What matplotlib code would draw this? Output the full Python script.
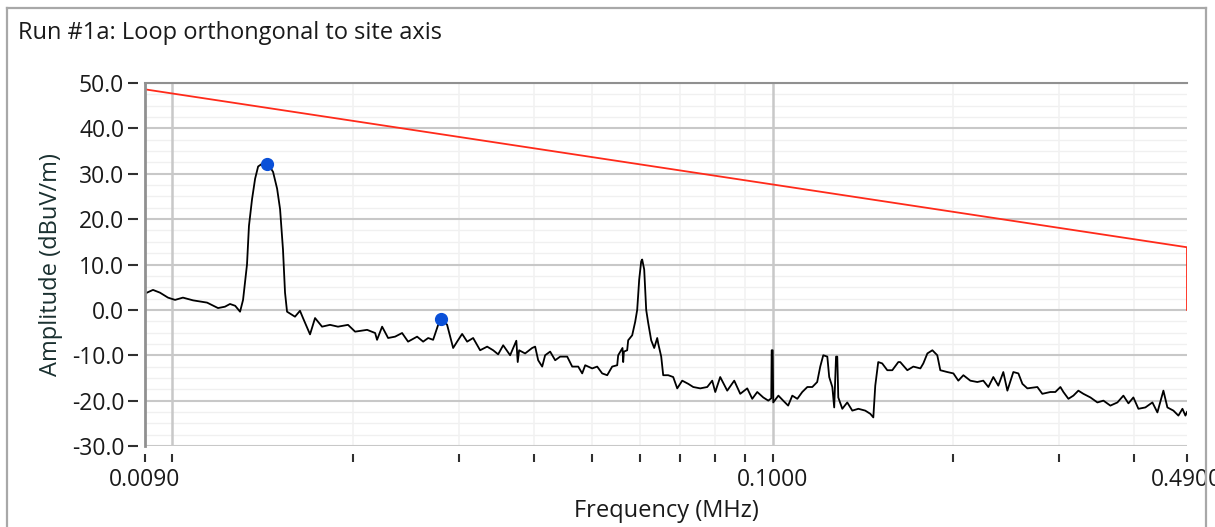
import matplotlib
matplotlib.use("Agg")
import matplotlib.pyplot as plt
from matplotlib.lines import Line2D
from matplotlib.ticker import FixedLocator, FixedFormatter, NullFormatter

# ---------------- data ----------------
freq_khz = [
    9.00, 9.28, 9.53, 9.83, 10.10, 10.41, 10.82, 11.42, 11.91, 12.23, 12.47, 12.72,
    12.96, 13.11, 13.31, 13.41, 13.57, 13.73, 13.89, 14.10, 14.43, 14.71, 14.94,
    15.11, 15.28, 15.40, 15.52, 16.00, 16.31, 16.50, 16.95, 17.28, 17.75, 18.30,
    18.87, 19.61, 20.15, 21.10, 21.76, 21.92, 22.35, 22.87, 23.49, 24.13, 24.69,
    25.56, 26.16, 26.67, 27.18, 27.71, 28.13, 28.68, 29.35, 29.80, 30.38, 30.97,
    31.69, 32.55, 33.44, 34.22, 34.88, 35.56, 36.52, 37.40, 37.60, 37.80, 38.68,
    39.74, 40.20, 40.67, 41.30, 41.77, 42.58, 43.41, 44.25, 45.46, 46.34, 47.42,
    48.15, 48.71, 50.03, 51.00, 51.99, 53.00, 54.02, 55.07, 55.28, 56.20, 56.35,
    56.50, 57.22, 57.44, 58.33, 59.01, 59.46, 59.92, 60.38, 60.61, 61.08, 61.55,
    62.03, 62.74, 63.47, 64.21, 64.45, 65.20, 65.70, 66.98, 68.27, 69.33, 70.67,
    72.32, 73.72, 75.73, 77.79, 79.29, 80.22, 81.76, 83.99, 86.28, 88.29, 90.69,
    92.45, 94.24, 96.44, 98.31, 99.44, 99.60, 100.0, 100.2, 102.2, 104.1, 106.1,
    107.8, 109.9, 112.0, 114.2, 116.4, 118.6, 120.0, 121.4, 123.3, 124.2, 125.7,
    126.6, 127.5, 128.1, 128.6, 130.6, 133.1, 135.7, 138.9, 142.6, 145.4, 147.1,
    148.2, 149.9, 152.2, 155.2, 158.2, 161.9, 163.1, 167.6, 171.5, 176.2, 178.2,
    181.0, 184.5, 188.0, 190.2, 195.4, 200.0, 203.8, 207.8, 213.4, 219.2, 224.3,
    228.7, 233.1, 237.6, 242.2, 246.0, 251.7, 256.6, 260.6, 265.6, 276.0, 281.3,
    290.1, 295.7, 301.5, 305.0, 310.9, 316.9, 323.0, 329.3, 338.3, 347.5, 355.6,
    365.2, 375.2, 383.9, 391.4, 398.9, 406.7, 417.7, 429.1, 437.4, 447.6, 454.5,
    465.1, 474.1, 481.5, 487.0, 490.0,
]
amp_db = [
    3.6, 4.4, 3.8, 2.7, 2.2, 2.7, 2.1, 1.6, 0.4, 0.7, 1.3, 0.9,
    -0.4, 2.2, 10.0, 18.5, 24.4, 28.9, 31.6, 32.2, 32.2, 30.4, 26.7,
    22.2, 13.3, 3.8, -0.4, -1.5, -0.2, -1.8, -5.4, -1.8, -3.7, -3.3,
    -3.7, -3.3, -4.8, -4.4, -5.1, -6.6, -3.7, -6.2, -5.9, -5.1, -7.0,
    -5.9, -7.0, -6.2, -6.6, -3.3, -2.0, -3.3, -8.4, -7.0, -5.3, -7.0,
    -6.2, -8.9, -8.1, -8.9, -9.8, -7.8, -10.0, -6.8, -11.5, -8.9, -9.6,
    -8.4, -8.1, -11.1, -12.5, -10.0, -9.2, -11.1, -10.3, -10.3, -12.5, -12.5,
    -14.0, -12.2, -12.9, -12.5, -14.0, -14.4, -12.5, -12.2, -10.0, -8.4, -11.5,
    -9.2, -8.9, -6.7, -5.6, -2.6, 0.0, 6.7, 10.7, 11.1, 8.9, 0.0,
    -2.9, -6.7, -8.4, -6.2, -7.4, -10.3, -14.4, -14.4, -14.8, -17.3, -15.6,
    -16.3, -17.0, -17.3, -17.0, -15.6, -18.1, -14.8, -17.8, -15.6, -18.5, -17.3,
    -19.6, -18.1, -19.3, -20.0, -19.5, -8.9, -8.9, -20.4, -18.9, -20.0, -21.1,
    -18.9, -19.6, -18.1, -17.0, -17.0, -15.9, -12.5, -10.0, -10.3, -14.8, -17.0,
    -21.5, -10.3, -10.3, -19.3, -21.8, -20.4, -22.2, -21.8, -22.2, -22.9, -23.7,
    -16.7, -11.5, -11.8, -13.3, -13.3, -11.5, -11.5, -13.3, -12.5, -12.9, -11.8,
    -9.6, -8.9, -10.0, -13.3, -13.7, -14.0, -15.6, -14.4, -15.6, -15.9, -15.6,
    -17.0, -14.8, -16.7, -13.7, -17.8, -13.7, -14.0, -16.3, -17.3, -17.0, -18.5,
    -18.1, -18.1, -17.0, -18.1, -19.6, -18.9, -17.8, -18.5, -19.3, -20.4, -20.0,
    -21.1, -20.4, -18.9, -20.6, -19.3, -21.8, -21.5, -20.4, -22.6, -17.8, -21.5,
    -22.2, -23.3, -21.8, -23.3, -22.5,
]

limit_freq_khz = [9.0, 490.0, 490.0]
limit_db = [48.6, 13.8, 0.0]

peak_freq_khz = [14.37, 28.0]
peak_db = [32.2, -2.1]

title_text = "Run #1a: Loop orthongonal to site axis"
x_label = "Frequency (MHz)"
y_label = "Amplitude (dBuV/m)"
x_tick_values = [0.009, 0.1, 0.49]
x_tick_labels = ["0.0090", "0.1000", "0.4900"]
x_minor_values = [0.01, 0.02, 0.03, 0.04, 0.05, 0.06, 0.07, 0.08, 0.09, 0.2, 0.3, 0.4]
y_tick_values = [-30, -20, -10, 0, 10, 20, 30, 40, 50]
y_tick_labels = ["-30.0", "-20.0", "-10.0", "0.0", "10.0", "20.0", "30.0", "40.0", "50.0"]

# ---------------- figure ----------------
plt.rcParams["font.family"] = ["Open Sans", "DejaVu Sans"]
W, H = 1215, 527
fig = plt.figure(figsize=(W / 100, H / 100), dpi=100)
fig.patch.set_facecolor("white")

# outer frame
for xs, ys in (([7, 7], [0, 519]), ([7, 1206], [519, 519]), ([1206, 1206], [0, 519])):
    fig.add_artist(Line2D([x / W for x in xs], [y / H for y in ys],
                          transform=fig.transFigure, color="#a8a8a8", lw=1.6))

fig.text(18 / W, 1 - 33 / H, title_text, ha="left", va="center",
         fontsize=17, color="#1a1a1a")

ax = fig.add_axes([145 / W, 1 - 446 / H, 1042 / W, 363 / H])
ax.set_xscale("log")
ax.set_xlim(0.009, 0.49)
ax.set_ylim(-30, 50)

# grid
for v in [-27.5, -25, -22.5, -17.5, -15, -12.5, -7.5, -5, -2.5, 2.5, 5, 7.5,
          12.5, 15, 17.5, 22.5, 25, 27.5, 32.5, 35, 37.5, 42.5, 45, 47.5]:
    ax.axhline(v, color="#f0f0f0", lw=1.0, zorder=0)
for v in [0.02, 0.03, 0.04, 0.05, 0.06, 0.07, 0.08, 0.09, 0.2, 0.3, 0.4]:
    ax.axvline(v, color="#f2f2f2", lw=1.2, zorder=0)
for v in y_tick_values:
    ax.axhline(v, color="#c8c8c8", lw=1.5, zorder=1)
for v in [0.01, 0.1]:
    ax.axvline(v, color="#c8c8c8", lw=1.8, zorder=1)

# data
fk = [f / 1000 for f in freq_khz]
ax.plot(fk, amp_db, color="black", lw=1.3, zorder=3)
ax.plot([f / 1000 for f in limit_freq_khz], limit_db, color="#ff2a1a", lw=1.3, zorder=3)
ax.plot([f / 1000 for f in peak_freq_khz], peak_db, "o", color="#0a50d8",
        markersize=8.5, zorder=4)

# spines
for s in ("right", "bottom", "left"):
    ax.spines[s].set_visible(False)
ax.spines["top"].set_color("#909090")
ax.spines["top"].set_linewidth(1.5)
ax.spines["bottom"].set_position(("outward", 6))
ax.spines["left"].set_position(("outward", 5))
ax.plot([0, 0], [0, 1], transform=ax.transAxes, color="#909090", lw=2,
        clip_on=False, zorder=5)

ax.xaxis.set_major_locator(FixedLocator(x_tick_values))
ax.xaxis.set_major_formatter(FixedFormatter(x_tick_labels))
ax.xaxis.set_minor_locator(FixedLocator(x_minor_values))
ax.xaxis.set_minor_formatter(NullFormatter())
ax.yaxis.set_major_locator(FixedLocator(y_tick_values))
ax.yaxis.set_major_formatter(FixedFormatter(y_tick_labels))
ax.yaxis.set_minor_locator(FixedLocator([]))

ax.tick_params(axis="x", which="both", length=6, width=1.5, color="#303030",
               labelsize=16.5, labelcolor="#1a1a1a", pad=4)
ax.tick_params(axis="y", which="major", length=7, width=1.5, color="#303030",
               labelsize=16.5, labelcolor="#1a1a1a", pad=3)

ax.set_xlabel(x_label, fontsize=17, color="#1a1a1a", labelpad=5)
ax.set_ylabel(y_label, fontsize=17, color="#1a3030", labelpad=6)

fig.savefig("out.png", dpi=100)
